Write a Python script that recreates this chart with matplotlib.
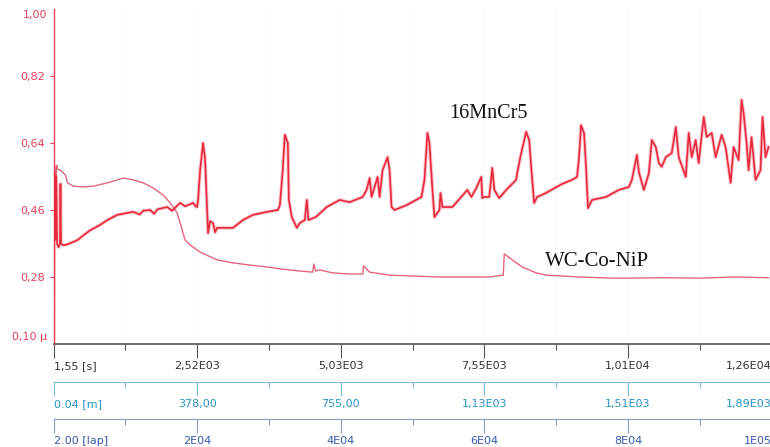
import matplotlib
matplotlib.use("Agg")
import matplotlib.pyplot as plt

# ---------------- data (x in laps, y = friction coefficient) ----------------
mn_laps = [0, 120, 250, 380, 500, 700, 900, 970, 1050, 1250, 1670, 2360, 3330, 4170,
           5140, 6500, 7500, 8890, 9720, 11110, 12000, 12500, 13470, 14000, 14500,
           15830, 16500, 17640, 18330, 19440, 19800, 20000, 20140, 20420, 20600,
           20830, 21100, 21390, 21530, 21810, 22220, 22500, 22780, 24170, 25000,
           26390, 27780, 29720, 31250, 31530, 31900, 32220, 32640, 32780, 33190,
           33890, 34310, 35000, 35280, 35500, 36530, 38060, 39860, 41250, 43060,
           43610, 44030, 44300, 45140, 45420, 45830, 46530, 46810, 47080, 47500,
           49170, 51250, 51670, 52080, 52360, 52780, 53060, 53750, 53900, 54170,
           55560, 57640, 58190, 58890, 59580, 59720, 60000, 60690, 61110, 61390,
           62080, 63060, 64440, 64580, 65140, 65830, 66250, 66530, 66940, 67360,
           68610, 70830, 72220, 72920, 73190, 73470, 73890, 74170, 74440, 75000,
           76940, 78750, 80140, 80560, 81250, 81530, 82220, 82920, 83330, 83890,
           84310, 84720, 85280, 86110, 86670, 87080, 88060, 88470, 88890, 89440,
           89860, 90560, 90970, 91670, 92220, 93060, 93610, 94310, 94720, 95420,
           95830, 96110, 96530, 96810, 97220, 97780, 98470, 98750, 99170, 99580]
mn_mu = [0.10, 0.56, 0.38, 0.55, 0.37, 0.36, 0.37, 0.53, 0.37, 0.366, 0.366, 0.371,
         0.379, 0.392, 0.406, 0.420, 0.433, 0.447, 0.450, 0.455, 0.448, 0.458, 0.460,
         0.450, 0.462, 0.468, 0.458, 0.479, 0.470, 0.479, 0.470, 0.468, 0.487, 0.567,
         0.600, 0.640, 0.600, 0.460, 0.398, 0.430, 0.425, 0.400, 0.412, 0.412, 0.412,
         0.433, 0.447, 0.455, 0.460, 0.473, 0.560, 0.662, 0.640, 0.487, 0.441, 0.412,
         0.425, 0.433, 0.487, 0.433, 0.441, 0.468, 0.487, 0.481, 0.495, 0.514, 0.546,
         0.495, 0.549, 0.495, 0.567, 0.602, 0.567, 0.468, 0.460, 0.473, 0.495, 0.541,
         0.667, 0.640, 0.514, 0.441, 0.460, 0.506, 0.468, 0.468, 0.514, 0.495, 0.519,
         0.549, 0.492, 0.495, 0.495, 0.573, 0.514, 0.492, 0.514, 0.541, 0.559, 0.613,
         0.670, 0.648, 0.576, 0.479, 0.495, 0.506, 0.530, 0.541, 0.549, 0.600, 0.688,
         0.667, 0.576, 0.465, 0.487, 0.495, 0.514, 0.522, 0.541, 0.608, 0.562, 0.514,
         0.559, 0.648, 0.629, 0.586, 0.576, 0.602, 0.613, 0.683, 0.602, 0.549, 0.667,
         0.602, 0.648, 0.586, 0.710, 0.656, 0.667, 0.602, 0.662, 0.629, 0.533, 0.629,
         0.594, 0.756, 0.721, 0.640, 0.567, 0.656, 0.541, 0.567, 0.710, 0.602, 0.629]

wc_laps = [0, 150, 300, 450, 560, 970, 1670, 1940, 2780, 4170, 5560, 7500, 8890, 9720,
           11110, 12500, 13890, 15280, 16250, 17220, 17640, 18330, 19030, 20420, 22780,
           25000, 27360, 29720, 31940, 34310, 36110, 36250, 36530, 37080, 38890, 41250,
           43060, 43190, 44030, 46810, 53750, 60690, 62640, 62780, 63890, 65280, 67220,
           68610, 73190, 77780, 80140, 85000, 90000, 95000, 99600]
wc_mu = [0.10, 0.58, 0.53, 0.58, 0.570, 0.567, 0.554, 0.533, 0.524, 0.522, 0.524, 0.533,
         0.541, 0.546, 0.541, 0.533, 0.519, 0.500, 0.479, 0.452, 0.425, 0.379, 0.366,
         0.347, 0.326, 0.318, 0.312, 0.307, 0.301, 0.296, 0.293, 0.315, 0.296, 0.299,
         0.291, 0.288, 0.288, 0.310, 0.293, 0.285, 0.280, 0.280, 0.285, 0.342, 0.326,
         0.307, 0.291, 0.285, 0.280, 0.277, 0.277, 0.278, 0.277, 0.280, 0.278]

y_ticks = [0.28, 0.46, 0.64, 0.82]
y_labels = ["0,28", "0,46", "0,64", "0,82"]
x_ticks = [0, 20000, 40000, 60000, 80000, 100000]
time_labels = ["1,55 [s]", "2,52E03", "5,03E03", "7,55E03", "1,01E04", "1,26E04"]
dist_labels = ["0.04 [m]", "378,00", "755,00", "1,13E03", "1,51E03", "1,89E03"]
lap_labels = ["2.00 [lap]", "2E04", "4E04", "6E04", "8E04", "1E05"]

# ---------------- figure ----------------
W, H = 770, 447
fig = plt.figure(figsize=(W / 100, H / 100), dpi=100)
X0PX = 53.5
PX_PER_20K = 143.6
x0 = X0PX / W
aw = (780 - X0PX) / W
xmax = (780 - X0PX) * 20000 / PX_PER_20K

RED = "#e8405a"
ax = fig.add_axes([x0, (H - 344) / H, aw, 335 / H])
ax.set_xlim(0, xmax)
ax.set_ylim(0.10, 1.00)
for xv in range(10000, 100001, 10000):
    ax.axvline(xv, color="#e6e6e6", lw=0.6, ls=(0, (1, 3)), zorder=0)
ax.plot(wc_laps, wc_mu, color="#e3667c", lw=1.0, zorder=2)
ax.plot(mn_laps, mn_mu, color="#ee5a6a", lw=2.6, alpha=0.35, zorder=3)
ax.plot(mn_laps, mn_mu, color="#e8283c", lw=1.2, zorder=4)

ax.spines["top"].set_visible(False)
ax.spines["right"].set_visible(False)
ax.spines["left"].set_color(RED)
ax.spines["left"].set_linestyle((0, (2, 1)))
ax.spines["left"].set_linewidth(1.0)
ax.spines["bottom"].set_color("#555555")
ax.spines["bottom"].set_linewidth(1.2)

ax.set_yticks(y_ticks)
ax.set_yticklabels(y_labels)
ax.tick_params(axis="y", colors=RED, length=3, width=0.8, pad=3, labelsize=8)
ax.text(-6 * 20000 / PX_PER_20K, 1.00 - 6 * 0.9 / 335, "1,00", color=RED, fontsize=8,
        ha="right", va="center")
ax.text(-6 * 20000 / PX_PER_20K, 0.10 + 7 * 0.9 / 335, "0,10 µ", color=RED, fontsize=8,
        ha="right", va="center")


def style_xaxis(a, labels, line_color, text_color, ls="-"):
    a.set_xlim(0, xmax)
    a.set_xticks(x_ticks)
    a.set_xticklabels(labels)
    a.set_xticks(range(10000, 100001, 20000), minor=True)
    a.tick_params(axis="x", which="major", length=10, width=0.8, color=line_color,
                  labelcolor=text_color, labelsize=8, pad=2.6)
    a.tick_params(axis="x", which="minor", length=4, width=0.8, color=line_color)
    tl = a.get_xticklabels()
    tl[0].set_ha("left")
    tl[-1].set_ha("right")
    a.spines["bottom"].set_color(line_color)
    a.spines["bottom"].set_linestyle(ls)


style_xaxis(ax, time_labels, "#555555", "#333333")

for ypx, labels, lc, tc, ls in [
    (382, dist_labels, "#7fbde0", "#2a94c4", "-"),
    (419, lap_labels, "#8a9cc4", "#3558b0", (0, (3, 1))),
]:
    a2 = fig.add_axes([x0, (H - ypx) / H, aw, 0.0001])
    a2.patch.set_visible(False)
    for s in ["top", "right", "left"]:
        a2.spines[s].set_visible(False)
    a2.set_yticks([])
    style_xaxis(a2, labels, lc, tc, ls)

fig.text(488 / W, 1 - 113 / H, "16MnCr5", fontsize=14.5, family="Liberation Serif",
         ha="center", va="center", color="#111111")
fig.text(597 / W, 1 - 261 / H, "WC-Co-NiP", fontsize=15, family="Liberation Serif",
         ha="center", va="center", color="#111111")

fig.savefig("out.png", dpi=100)
